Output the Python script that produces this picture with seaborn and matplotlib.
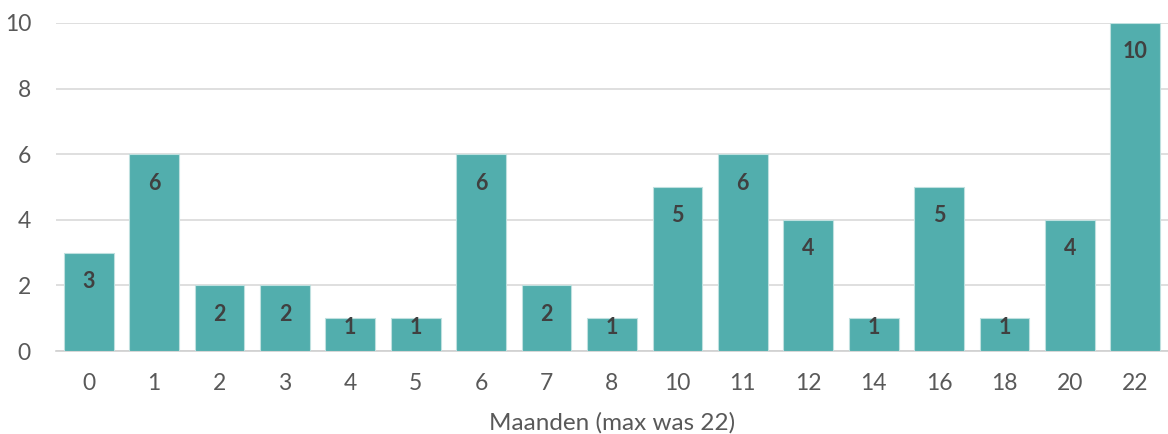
import matplotlib
matplotlib.use("Agg")
import matplotlib.pyplot as plt
import seaborn as sns
import pandas as pd

months = ["0", "1", "2", "3", "4", "5", "6", "7", "8", "10", "11", "12", "14", "16", "18", "20", "22"]
counts = [3, 6, 2, 2, 1, 1, 6, 2, 1, 5, 6, 4, 1, 5, 1, 4, 10]
y_ticks = [0, 2, 4, 6, 8, 10]
x_title = "Maanden (max was 22)"

sns.set_theme(style="white")
plt.rcParams["font.family"] = ["Lato", "DejaVu Sans"]

df = pd.DataFrame({"maanden": months, "aantal": counts})

fig = plt.figure(figsize=(11.68, 4.34), dpi=100)
ax = fig.add_axes([56 / 1168, 1 - 351 / 434, 1112 / 1168, 328 / 434])

sns.barplot(data=df, x="maanden", y="aantal", order=months, color="#52aead",
            saturation=1, width=0.76, edgecolor="#bfe0df", linewidth=0.8,
            ax=ax, zorder=3)

ax.set_ylim(0, 10)
ax.set_xlim(-0.5, len(months) - 0.5)
ax.set_yticks(y_ticks)
ax.yaxis.grid(True, color="#d9d9d9", linewidth=1.2, zorder=0)
ax.xaxis.grid(False)
for side in ["left", "right", "top"]:
    ax.spines[side].set_visible(False)
ax.spines["bottom"].set_color("#d0d0d0")
ax.spines["bottom"].set_linewidth(1.2)
ax.tick_params(axis="both", length=0, labelsize=16.5, labelcolor="#595959")
ax.tick_params(axis="x", pad=16)
ax.tick_params(axis="y", pad=18)
ax.set_ylabel("")
ax.set_xlabel(x_title, fontsize=17.5, color="#595959", labelpad=13)

# value labels just inside the top of each bar
for i, v in enumerate(counts):
    ypos = max(v - 0.88, 0.73)
    ax.text(i, ypos, str(v), ha="center", va="center", fontsize=15.5,
            fontweight="bold", color="#404040", zorder=4)

fig.savefig("out.png", dpi=100)
